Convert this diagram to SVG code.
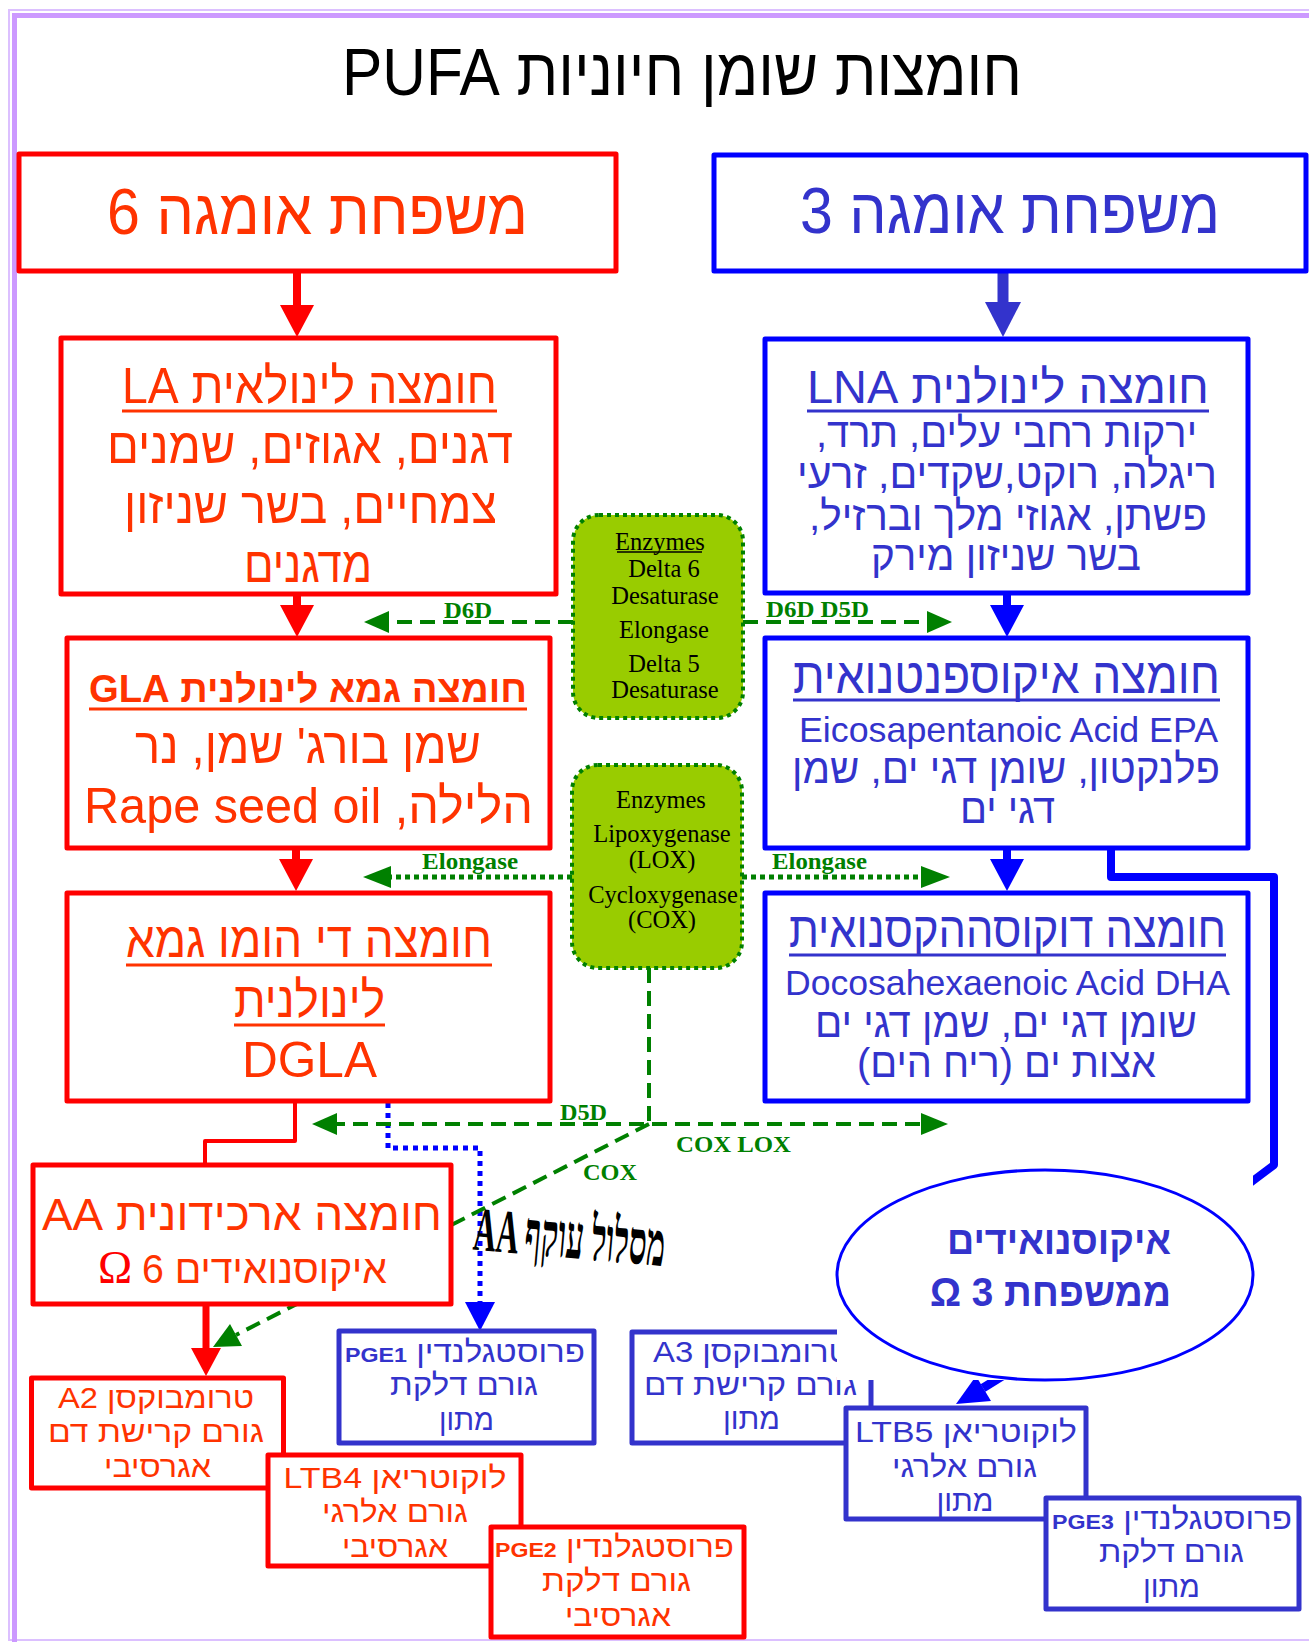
<svg xmlns="http://www.w3.org/2000/svg" width="1309" height="1642" viewBox="0 0 1309 1642">
<defs>
<style>
  .t{font-family:"Liberation Sans","DejaVu Sans",Arial,sans-serif;text-anchor:middle}
  .rtl{direction:rtl;unicode-bidi:embed}
  .r{fill:#FF3300}
  .b{fill:#3333CC}
  .f64{font-size:64px}
  .f50{font-size:50px}
  .f42{font-size:41px}
  .f35{font-size:35px}
  .f30{font-size:30px}
  .pge{font-weight:bold;font-size:21px}
  .box{fill:#fff;stroke-width:5;stroke-linejoin:round}
  .rb{stroke:#FF0000}
  .bb{stroke:#0000FF}
  .pb{stroke:#3333CC}
  .ulr{stroke:#FF3300;stroke-width:3}
  .ulb{stroke:#3333CC;stroke-width:3}
  .enz{fill:#99CC00;stroke:#008000;stroke-width:4;stroke-dasharray:4 4}
  .et{font-family:"Liberation Serif","Times New Roman",serif;font-size:24.5px;text-anchor:middle;fill:#000}
  .gl{font-family:"Liberation Serif","Times New Roman",serif;font-weight:bold;font-size:24px;fill:#008000}
  .dash{fill:none;stroke:#008000;stroke-width:4;stroke-dasharray:15 8}
  .dot{fill:none;stroke:#008000;stroke-width:5;stroke-dasharray:5 4}
  .gh{fill:#008000}
  .rh{fill:#FF0000}
  .bh{fill:#0000FF}
  .ph{fill:#3333CC}
</style>
</defs>

<rect width="1309" height="1642" fill="#fff"/>

<!-- page frame -->
<g id="frame" fill="none">
  <rect x="9" y="10" width="1400" height="1630" stroke="#DCC0FF" stroke-width="2"/>
  <rect x="14.5" y="15.5" width="1400" height="1650" stroke="#CC99FF" stroke-width="5"/>
</g>

<g id="title">
  <text class="t rtl" x="682" y="95" font-size="66" fill="#000" textLength="680" lengthAdjust="spacingAndGlyphs">חומצות שומן חיוניות PUFA</text>
</g>

<!-- connectors -->
<g id="connectors">
  <!-- omega 6 chain -->
  <line x1="297" y1="271" x2="297" y2="306" stroke="#FF0000" stroke-width="8"/>
  <polygon class="rh" points="280,305 314,305 297,337"/>
  <line x1="297" y1="594" x2="297" y2="606" stroke="#FF0000" stroke-width="8"/>
  <polygon class="rh" points="280,605 314,605 297,637"/>
  <line x1="296" y1="848" x2="296" y2="860" stroke="#FF0000" stroke-width="8"/>
  <polygon class="rh" points="279,859 313,859 296,891"/>
  <polyline points="295,1101 295,1141 205,1141 205,1165" fill="none" stroke="#FF0000" stroke-width="4" stroke-linejoin="round"/>
  <line x1="206" y1="1304" x2="206" y2="1349" stroke="#FF0000" stroke-width="7"/>
  <polygon class="rh" points="191,1348 221,1348 206,1376"/>

  <!-- omega 3 chain -->
  <line x1="1003" y1="271" x2="1003" y2="303" stroke="#3333CC" stroke-width="11"/>
  <polygon class="ph" points="985,302 1021,302 1003,337"/>
  <line x1="1007" y1="593" x2="1007" y2="606" stroke="#0000FF" stroke-width="8"/>
  <polygon class="bh" points="990,605 1024,605 1007,637"/>
  <line x1="1007" y1="848" x2="1007" y2="860" stroke="#0000FF" stroke-width="8"/>
  <polygon class="bh" points="990,859 1024,859 1007,891"/>
  <polyline points="1111,848 1111,877 1274,877 1274,1165 1238,1192" fill="none" stroke="#0000FF" stroke-width="8" stroke-linejoin="round"/>

  <!-- DGLA to PGE1 -->
  <polyline points="388,1103 388,1148 480,1148 480,1303" fill="none" stroke="#0000FF" stroke-width="5" stroke-dasharray="5 5"/>
  <polygon class="bh" points="465,1302 495,1302 480,1331"/>

  <!-- enzyme arrows -->
  <line class="dash" x1="573" y1="622" x2="388" y2="622"/>
  <polygon class="gh" points="389,611 389,633 364,622"/>
  <line class="dash" x1="743" y1="622" x2="928" y2="622"/>
  <polygon class="gh" points="927,611 927,633 952,622"/>
  <line class="dot" x1="572" y1="877" x2="390" y2="877"/>
  <polygon class="gh" points="391,866 391,888 363,877"/>
  <line class="dot" x1="742" y1="877" x2="922" y2="877"/>
  <polygon class="gh" points="921,866 921,888 950,877"/>
  <line class="dash" x1="649" y1="968" x2="649" y2="1124"/>
  <line class="dash" x1="920" y1="1124" x2="336" y2="1124"/>
  <polygon class="gh" points="337,1113 337,1135 312,1124"/>
  <polygon class="gh" points="921,1113 921,1135 948,1124"/>
  <line class="dash" x1="649" y1="1124" x2="236" y2="1335"/>
  <polygon class="gh" points="242,1346 230,1324 213,1347"/>

  <!-- labels on enzyme arrows -->
  <text class="gl" x="444" y="618" textLength="48" lengthAdjust="spacingAndGlyphs">D6D</text>
  <text class="gl" x="766" y="617" textLength="103" lengthAdjust="spacingAndGlyphs">D6D D5D</text>
  <text class="gl" x="422" y="869" textLength="96" lengthAdjust="spacingAndGlyphs">Elongase</text>
  <text class="gl" x="772" y="869" textLength="95" lengthAdjust="spacingAndGlyphs">Elongase</text>
  <text class="gl" x="560" y="1120" textLength="47" lengthAdjust="spacingAndGlyphs">D5D</text>
  <text class="gl" x="676" y="1152" textLength="115" lengthAdjust="spacingAndGlyphs">COX LOX</text>
  <text class="gl" x="583" y="1180" textLength="54" lengthAdjust="spacingAndGlyphs">COX</text>
</g>

<!-- family headers -->
<g id="omega6">
  <rect class="box rb" x="19" y="154" width="597" height="117"/>
  <text class="t rtl r f64" x="317.5" y="234" textLength="421" lengthAdjust="spacingAndGlyphs">משפחת אומגה 6</text>
</g>
<g id="omega3">
  <rect class="box bb" x="714" y="155" width="592" height="116"/>
  <text class="t rtl b f64" x="1010" y="233" textLength="420" lengthAdjust="spacingAndGlyphs">משפחת אומגה 3</text>
</g>

<!-- omega 6 column -->
<g id="la">
  <rect class="box rb" x="61" y="338" width="495" height="256"/>
  <text class="t rtl r f50" x="309.5" y="403" textLength="375" lengthAdjust="spacingAndGlyphs">חומצה לינולאית LA</text>
  <line class="ulr" x1="122" y1="411" x2="497" y2="411"/>
  <text class="t rtl r f50" x="310" y="463" textLength="406" lengthAdjust="spacingAndGlyphs">דגנים, אגוזים, שמנים</text>
  <text class="t rtl r f50" x="310.5" y="523" textLength="373" lengthAdjust="spacingAndGlyphs">צמחיים, בשר שניזון</text>
  <text class="t rtl r f50" x="308" y="582" textLength="128" lengthAdjust="spacingAndGlyphs">מדגנים</text>
</g>
<g id="gla">
  <rect class="box rb" x="67" y="638" width="483" height="210"/>
  <text class="t rtl r" x="308" y="702" font-size="38" font-weight="bold" textLength="438" lengthAdjust="spacingAndGlyphs">חומצה גמא לינולנית GLA</text>
  <line class="ulr" x1="89" y1="709" x2="527" y2="709"/>
  <text class="t rtl r f50" x="308" y="763" textLength="346" lengthAdjust="spacingAndGlyphs">שמן בורג' שמן, נר</text>
  <text class="t rtl r f50" x="308.5" y="823" textLength="449" lengthAdjust="spacingAndGlyphs">הלילה, Rape seed oil</text>
</g>
<g id="dgla">
  <rect class="box rb" x="67" y="893" width="483" height="208"/>
  <text class="t rtl r f50" x="309" y="957" textLength="366" lengthAdjust="spacingAndGlyphs">חומצה די הומו גמא</text>
  <line class="ulr" x1="126" y1="965" x2="492" y2="965"/>
  <text class="t rtl r f50" x="309.5" y="1017" textLength="151" lengthAdjust="spacingAndGlyphs">לינולנית</text>
  <line class="ulr" x1="234" y1="1025" x2="385" y2="1025"/>
  <text class="t r f50" x="309.5" y="1077" textLength="135" lengthAdjust="spacingAndGlyphs">DGLA</text>
</g>

<!-- omega 3 column -->
<g id="lna">
  <rect class="box bb" x="765" y="339" width="483" height="254"/>
  <text class="t rtl b" x="1008" y="403" font-size="46" textLength="402" lengthAdjust="spacingAndGlyphs">חומצה לינולנית LNA</text>
  <line class="ulb" x1="807" y1="411" x2="1209" y2="411"/>
  <text class="t rtl b f42" x="1006.5" y="447" textLength="381" lengthAdjust="spacingAndGlyphs">ירקות רחבי עלים, תרד,</text>
  <text class="t rtl b f42" x="1007" y="488" textLength="420" lengthAdjust="spacingAndGlyphs">ריגלה, רוקט,שקדים, זרעי</text>
  <text class="t rtl b f42" x="1008" y="530" textLength="398" lengthAdjust="spacingAndGlyphs">פשתן, אגוזי מלך וברזיל,</text>
  <text class="t rtl b f42" x="1006" y="570" textLength="270" lengthAdjust="spacingAndGlyphs">בשר שניזון מירק</text>
</g>
<g id="epa">
  <rect class="box bb" x="765" y="638" width="483" height="210"/>
  <text class="t rtl b f50" x="1006.5" y="693" textLength="427" lengthAdjust="spacingAndGlyphs">חומצה איקוספנטנואית</text>
  <line class="ulb" x1="793" y1="700" x2="1220" y2="700"/>
  <text class="t b f35" x="1008.5" y="742" textLength="419" lengthAdjust="spacingAndGlyphs">Eicosapentanoic Acid EPA</text>
  <text class="t rtl b f42" x="1006" y="783" textLength="428" lengthAdjust="spacingAndGlyphs">פלנקטון, שומן דגי ים, שמן</text>
  <text class="t rtl b f42" x="1007.5" y="823" textLength="95" lengthAdjust="spacingAndGlyphs">דגי ים</text>
</g>
<g id="dha">
  <rect class="box bb" x="765" y="893" width="483" height="208"/>
  <text class="t rtl b f50" x="1007.5" y="947" textLength="437" lengthAdjust="spacingAndGlyphs">חומצה דוקוסההקסנואית</text>
  <line class="ulb" x1="789" y1="955" x2="1226" y2="955"/>
  <text class="t b f35" x="1007.5" y="995" textLength="445" lengthAdjust="spacingAndGlyphs">Docosahexaenoic Acid DHA</text>
  <text class="t rtl b f42" x="1006" y="1037" textLength="382" lengthAdjust="spacingAndGlyphs">שומן דגי ים, שמן דגי ים</text>
  <text class="t rtl b f42" x="1006.5" y="1077" textLength="299" lengthAdjust="spacingAndGlyphs">אצות ים (ריח הים)</text>
</g>

<!-- enzyme boxes -->
<g id="enzymes-desaturase">
  <rect class="enz" x="573" y="515" width="170" height="203" rx="26"/>
  <text class="et" x="660" y="550">Enzymes</text>
  <line x1="617" y1="552" x2="702" y2="552" stroke="#000" stroke-width="1.5"/>
  <text class="et" x="664" y="577">Delta 6</text>
  <text class="et" x="665" y="604">Desaturase</text>
  <text class="et" x="664" y="638">Elongase</text>
  <text class="et" x="664" y="672">Delta 5</text>
  <text class="et" x="665" y="698">Desaturase</text>
</g>
<g id="enzymes-oxygenase">
  <rect class="enz" x="572" y="765" width="170" height="203" rx="26"/>
  <text class="et" x="661" y="808">Enzymes</text>
  <text class="et" x="662" y="842">Lipoxygenase</text>
  <text class="et" x="662" y="868">(LOX)</text>
  <text class="et" x="663" y="903">Cycloxygenase</text>
  <text class="et" x="662" y="928">(COX)</text>
</g>

<!-- arachidonic acid -->
<g id="aa">
  <rect class="box rb" x="33" y="1165" width="418" height="139"/>
  <text class="t rtl r" x="242" y="1230" font-size="45" textLength="400" lengthAdjust="spacingAndGlyphs">חומצה ארכידונית AA</text>
  <text class="t rtl r" x="264.5" y="1283" font-size="40" textLength="245" lengthAdjust="spacingAndGlyphs">איקוסנואידים 6</text>
  <text x="115" y="1283" font-family="Liberation Serif, Times New Roman, serif" font-size="46" fill="#FF0000" text-anchor="middle">Ω</text>
</g>

<g id="bypass-label" transform="rotate(5 570 1245)">
  <text x="473" y="1258" font-family="Liberation Serif, Times New Roman, serif" font-weight="bold" font-size="62" fill="#000" textLength="192" lengthAdjust="spacingAndGlyphs">AA מסלול עוקף</text>
</g>

<!-- omega 6 products -->
<g id="a2">
  <rect class="box rb" x="31.5" y="1378" width="252" height="110"/>
  <text class="t rtl r f30" x="156" y="1408" textLength="196" lengthAdjust="spacingAndGlyphs">טרומבוקסן A2</text>
  <text class="t rtl r f30" x="156" y="1442" textLength="216" lengthAdjust="spacingAndGlyphs">גורם קרישת דם</text>
  <text class="t rtl r f30" x="157.5" y="1477" textLength="107" lengthAdjust="spacingAndGlyphs">אגרסיבי</text>
</g>
<g id="ltb4">
  <rect class="box rb" x="268" y="1455" width="253" height="111"/>
  <text class="t rtl r f30" x="395" y="1488" textLength="223" lengthAdjust="spacingAndGlyphs">לוקוטריאן LTB4</text>
  <text class="t rtl r f30" x="395" y="1522" textLength="146" lengthAdjust="spacingAndGlyphs">גורם אלרגי</text>
  <text class="t rtl r f30" x="395" y="1557" textLength="106" lengthAdjust="spacingAndGlyphs">אגרסיבי</text>
</g>
<g id="pge2">
  <rect class="box rb" x="491" y="1527" width="253" height="110"/>
  <text class="t rtl r f30" x="614.5" y="1557" textLength="239" lengthAdjust="spacingAndGlyphs">פרוסטגלנדין <tspan class="pge">PGE2</tspan></text>
  <text class="t rtl r f30" x="616.5" y="1591" textLength="149" lengthAdjust="spacingAndGlyphs">גורם דלקת</text>
  <text class="t rtl r f30" x="618" y="1626" textLength="106" lengthAdjust="spacingAndGlyphs">אגרסיבי</text>
</g>

<!-- omega 3 / DGLA products -->
<g id="pge1">
  <rect class="box pb" x="339" y="1331" width="255" height="112"/>
  <text class="t rtl b f30" x="465" y="1362" textLength="240" lengthAdjust="spacingAndGlyphs">פרוסטגלנדין <tspan class="pge">PGE1</tspan></text>
  <text class="t rtl b f30" x="464" y="1395" textLength="148" lengthAdjust="spacingAndGlyphs">גורם דלקת</text>
  <text class="t rtl b f30" x="466.5" y="1430" textLength="55" lengthAdjust="spacingAndGlyphs">מתון</text>
</g>
<g id="a3">
  <rect class="box pb" x="632" y="1332" width="239" height="111"/>
  <text class="t rtl b f30" x="751.5" y="1362" textLength="197" lengthAdjust="spacingAndGlyphs">טרומבוקסן A3</text>
  <text class="t rtl b f30" x="750.5" y="1395" textLength="213" lengthAdjust="spacingAndGlyphs">גורם קרישת דם</text>
  <text class="t rtl b f30" x="751.5" y="1429" textLength="57" lengthAdjust="spacingAndGlyphs">מתון</text>
</g>

<!-- omega 3 eicosanoids: ellipse on a white frame that masks what lies beneath -->
<g id="eicosanoids3">
  <line x1="1012" y1="1370" x2="983" y2="1388" stroke="#0000FF" stroke-width="9"/>
  <polygon class="bh" points="991,1401 976,1376 956,1404"/>
  <rect x="837" y="1170" width="416" height="210" fill="#fff"/>
  <ellipse cx="1045" cy="1275" rx="208" ry="105" fill="#fff" stroke="#0000FF" stroke-width="3"/>
  <text class="t rtl b" x="1059" y="1254" font-size="40" font-weight="bold" textLength="224" lengthAdjust="spacingAndGlyphs">איקוסנואידים</text>
  <text class="t rtl b" x="1050.5" y="1306" font-size="40" font-weight="bold" textLength="241" lengthAdjust="spacingAndGlyphs">ממשפחת 3 Ω</text>
</g>

<g id="ltb5">
  <rect class="box pb" x="846" y="1408" width="240" height="111"/>
  <text class="t rtl b f30" x="966" y="1442" textLength="222" lengthAdjust="spacingAndGlyphs">לוקוטריאן LTB5</text>
  <text class="t rtl b f30" x="964.5" y="1477" textLength="145" lengthAdjust="spacingAndGlyphs">גורם אלרגי</text>
  <text class="t rtl b f30" x="965" y="1511" textLength="57" lengthAdjust="spacingAndGlyphs">מתון</text>
</g>
<g id="pge3">
  <rect class="box pb" x="1046" y="1498" width="253" height="111"/>
  <text class="t rtl b f30" x="1172" y="1529" textLength="240" lengthAdjust="spacingAndGlyphs">פרוסטגלנדין <tspan class="pge">PGE3</tspan></text>
  <text class="t rtl b f30" x="1171.5" y="1562" textLength="145" lengthAdjust="spacingAndGlyphs">גורם דלקת</text>
  <text class="t rtl b f30" x="1171.5" y="1597" textLength="57" lengthAdjust="spacingAndGlyphs">מתון</text>
</g>
</svg>
